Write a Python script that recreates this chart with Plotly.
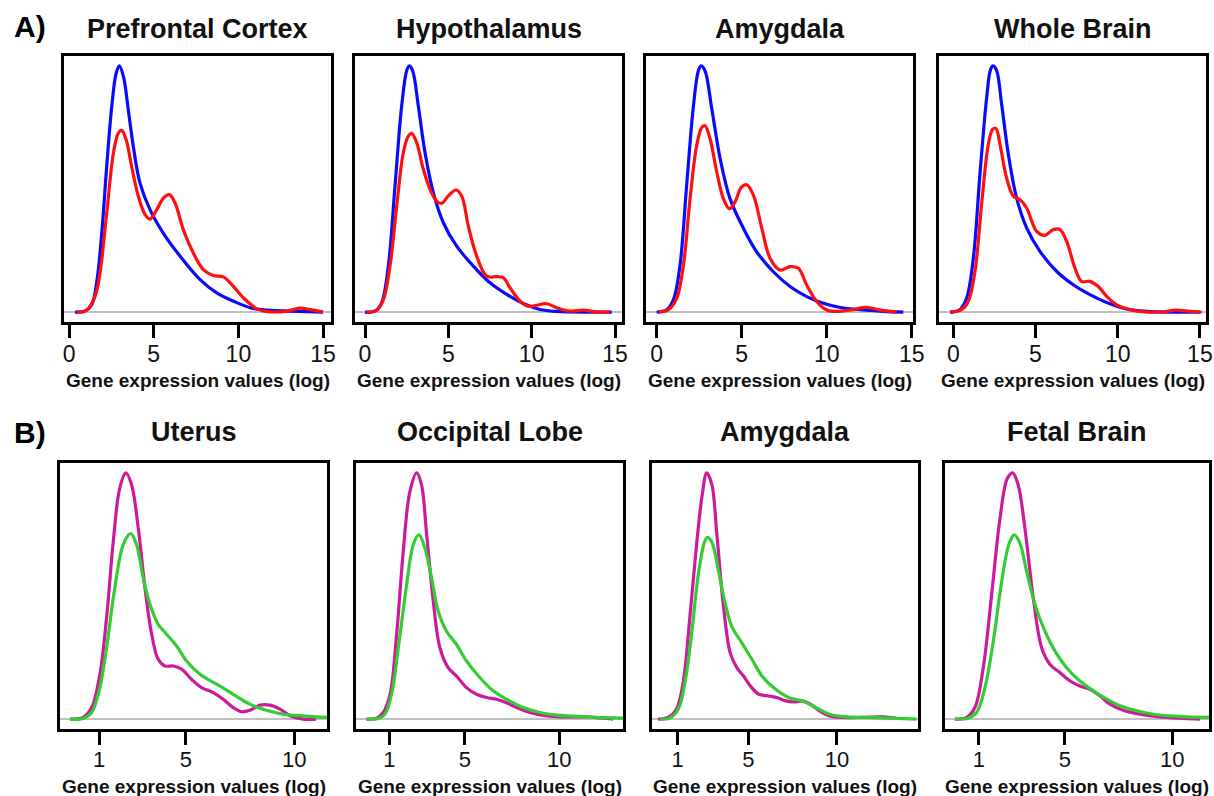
import plotly.graph_objects as go

# ---------------- data (relative density) ----------------
# Row A: blue vs red
pfc_blue_x = [0.35, 0.94, 1.34, 1.63, 1.93, 2.22, 2.52, 2.78, 2.97, 3.21, 3.5, 3.8, 4.19, 4.78, 5.57, 6.56, 7.74, 8.72, 9.7, 10.7, 11.7, 13.05, 15.0]
pfc_blue_y = [0, 0.004, 0.03, 0.12, 0.32, 0.59, 0.835, 0.97, 1.0, 0.957, 0.82, 0.67, 0.524, 0.416, 0.32, 0.227, 0.132, 0.078, 0.045, 0.018, 0.008, 0.004, 0]
pfc_red_x = [0.45, 1.04, 1.54, 1.83, 2.22, 2.62, 2.91, 3.11, 3.37, 3.7, 4.09, 4.49, 4.78, 5.18, 5.57, 5.93, 6.26, 6.75, 7.34, 7.93, 8.52, 9.11, 9.7, 10.3, 11.1, 11.87, 12.85, 13.64, 14.2, 15.0]
pfc_red_y = [0, 0.008, 0.065, 0.16, 0.40, 0.646, 0.727, 0.738, 0.70, 0.59, 0.47, 0.396, 0.378, 0.416, 0.463, 0.477, 0.443, 0.335, 0.24, 0.173, 0.149, 0.143, 0.105, 0.058, 0.0135, 0.0014, 0.004, 0.016, 0.011, 0]

hyp_blue_x = [0, 0.6, 1.0, 1.4, 1.8, 2.2, 2.5, 2.66, 2.86, 3.2, 3.6, 4.1, 4.7, 5.5, 6.5, 7.5, 8.5, 9.5, 10.5, 11.5, 13.5, 14.8]
hyp_blue_y = [0, 0.004, 0.038, 0.187, 0.512, 0.837, 0.98, 1.0, 0.98, 0.837, 0.648, 0.485, 0.363, 0.268, 0.187, 0.119, 0.072, 0.035, 0.011, 0.003, 0, 0]
hyp_red_x = [0.1, 0.7, 1.1, 1.5, 1.9, 2.3, 2.6, 2.8, 3.1, 3.5, 3.9, 4.3, 4.6, 5.0, 5.46, 5.8, 6.2, 6.7, 7.3, 7.9, 8.3, 8.7, 9.3, 9.8, 10.3, 10.9, 11.5, 12.3, 13.1, 13.9, 14.7]
hyp_red_y = [0, 0.008, 0.05, 0.187, 0.43, 0.648, 0.715, 0.726, 0.688, 0.58, 0.499, 0.451, 0.442, 0.472, 0.496, 0.472, 0.35, 0.228, 0.146, 0.144, 0.14, 0.099, 0.045, 0.024, 0.028, 0.034, 0.018, 0.004, 0.008, 0.001, 0]

amyA_blue_x = [0, 0.59, 0.98, 1.37, 1.76, 2.16, 2.45, 2.61, 2.84, 3.24, 3.73, 4.31, 5.1, 5.88, 6.86, 7.84, 8.82, 9.8, 10.8, 12.16, 13.3, 14.5]
amyA_blue_y = [0, 0.01, 0.05, 0.19, 0.515, 0.838, 0.98, 1.0, 0.98, 0.825, 0.623, 0.461, 0.34, 0.245, 0.164, 0.104, 0.063, 0.036, 0.019, 0.009, 0.003, 0]
amyA_red_x = [0.1, 0.69, 1.18, 1.57, 1.96, 2.35, 2.65, 2.84, 3.14, 3.53, 3.92, 4.27, 4.6, 4.98, 5.29, 5.69, 6.18, 6.67, 7.25, 7.84, 8.33, 8.82, 9.41, 10.0, 10.6, 11.4, 12.35, 13.1, 14.1]
amyA_red_y = [0, 0.01, 0.057, 0.19, 0.46, 0.677, 0.75, 0.757, 0.703, 0.569, 0.461, 0.42, 0.447, 0.508, 0.517, 0.474, 0.34, 0.218, 0.171, 0.185, 0.178, 0.11, 0.043, 0.009, 0.003, 0.009, 0.019, 0.009, 0]

wb_blue_x = [-0.2, 0.4, 0.81, 1.22, 1.62, 2.03, 2.27, 2.43, 2.64, 2.94, 3.35, 3.85, 4.46, 5.27, 6.28, 7.3, 8.31, 9.33, 10.34, 11.35, 12.97, 15.0]
wb_blue_y = [0, 0.01, 0.057, 0.22, 0.56, 0.871, 0.986, 1.0, 0.98, 0.844, 0.64, 0.464, 0.342, 0.247, 0.166, 0.111, 0.071, 0.039, 0.016, 0.005, 0, 0]
wb_red_x = [-0.2, 0.5, 0.91, 1.32, 1.72, 2.13, 2.39, 2.59, 2.84, 3.24, 3.65, 4.05, 4.46, 5.07, 5.57, 6.08, 6.49, 6.89, 7.4, 7.8, 8.31, 8.82, 9.33, 9.93, 10.54, 11.35, 12.57, 13.58, 14.39, 15.1]
wb_red_y = [0, 0.01, 0.043, 0.166, 0.437, 0.681, 0.742, 0.746, 0.681, 0.545, 0.471, 0.457, 0.423, 0.328, 0.312, 0.335, 0.335, 0.288, 0.179, 0.125, 0.125, 0.104, 0.064, 0.03, 0.014, 0.003, 0, 0.008, 0.003, 0]

# Row B: magenta vs green
ut_mag_x = [-0.35, 0.26, 0.65, 1.03, 1.34, 1.65, 1.95, 2.23, 2.49, 2.8, 3.11, 3.42, 3.72, 4.03, 4.42, 4.8, 5.26, 5.72, 6.26, 6.72, 7.18, 7.57, 7.95, 8.42, 8.88, 9.34, 9.8, 10.4, 11.0]
ut_mag_y = [0, 0.007, 0.047, 0.182, 0.412, 0.723, 0.939, 1.0, 0.953, 0.777, 0.534, 0.345, 0.243, 0.216, 0.216, 0.203, 0.162, 0.128, 0.108, 0.081, 0.047, 0.03, 0.036, 0.057, 0.057, 0.041, 0.014, 0, 0]
ut_grn_x = [-0.35, 0.26, 0.65, 1.03, 1.34, 1.72, 2.11, 2.45, 2.72, 3.03, 3.34, 3.72, 4.11, 4.57, 5.03, 5.65, 6.42, 7.18, 7.95, 8.72, 9.49, 10.26, 11.03, 11.57]
ut_grn_y = [0, 0.003, 0.027, 0.128, 0.29, 0.534, 0.709, 0.753, 0.709, 0.574, 0.466, 0.385, 0.345, 0.297, 0.236, 0.182, 0.142, 0.101, 0.061, 0.036, 0.02, 0.014, 0.009, 0.007]

occ_mag_x = [-0.2, 0.33, 0.68, 1.04, 1.39, 1.74, 2.09, 2.45, 2.71, 2.98, 3.33, 3.68, 4.12, 4.56, 5.09, 5.62, 6.15, 6.68, 7.21, 7.74, 8.44, 9.32, 10.38, 11.44, 12.5, 12.85]
occ_mag_y = [0, 0.004, 0.027, 0.1, 0.344, 0.68, 0.923, 1.0, 0.95, 0.748, 0.478, 0.29, 0.209, 0.175, 0.128, 0.101, 0.088, 0.081, 0.067, 0.047, 0.027, 0.013, 0.009, 0.009, 0.003, 0]
occ_grn_x = [-0.2, 0.42, 0.77, 1.12, 1.48, 1.92, 2.27, 2.57, 2.89, 3.24, 3.59, 4.03, 4.56, 5.09, 5.8, 6.5, 7.21, 8.09, 8.97, 9.85, 10.74, 11.79, 13.4]
occ_grn_y = [0, 0.003, 0.02, 0.1, 0.29, 0.546, 0.708, 0.748, 0.694, 0.573, 0.438, 0.357, 0.303, 0.236, 0.168, 0.115, 0.081, 0.047, 0.027, 0.016, 0.012, 0.007, 0.004]

amyB_mag_x = [-0.1, 0.47, 0.94, 1.32, 1.7, 2.08, 2.4, 2.65, 2.94, 3.22, 3.6, 3.98, 4.36, 4.74, 5.12, 5.59, 6.16, 6.64, 7.11, 7.58, 8.06, 8.53, 9.0, 9.58, 10.34, 11.47, 12.61, 13.37]
amyB_mag_y = [0, 0.007, 0.04, 0.148, 0.416, 0.711, 0.913, 1.0, 0.953, 0.752, 0.456, 0.268, 0.208, 0.174, 0.134, 0.101, 0.094, 0.087, 0.074, 0.07, 0.074, 0.06, 0.034, 0.013, 0.007, 0.007, 0.009, 0.003]
amyB_grn_x = [0.0, 0.56, 1.04, 1.42, 1.8, 2.18, 2.52, 2.69, 2.94, 3.31, 3.69, 4.07, 4.64, 5.21, 5.78, 6.54, 7.3, 8.06, 8.82, 9.58, 10.53, 11.85, 13.37, 14.5]
amyB_grn_y = [0, 0.004, 0.04, 0.148, 0.349, 0.59, 0.718, 0.738, 0.718, 0.604, 0.47, 0.376, 0.309, 0.242, 0.174, 0.121, 0.087, 0.074, 0.047, 0.02, 0.009, 0.007, 0.003, 0]

fb_mag_x = [-0.12, 0.43, 0.81, 1.2, 1.59, 1.98, 2.32, 2.57, 2.83, 3.14, 3.53, 3.92, 4.31, 4.77, 5.24, 5.7, 6.17, 6.64, 7.1, 7.72, 8.5, 9.43, 10.52, 11.3]
fb_mag_y = [0, 0.007, 0.047, 0.209, 0.505, 0.815, 0.977, 1.0, 0.95, 0.775, 0.492, 0.29, 0.222, 0.189, 0.155, 0.135, 0.121, 0.094, 0.061, 0.036, 0.02, 0.009, 0.003, 0]
fb_grn_x = [-0.12, 0.5, 0.89, 1.28, 1.67, 2.06, 2.41, 2.65, 2.91, 3.22, 3.61, 4.07, 4.54, 5.08, 5.7, 6.33, 6.95, 7.57, 8.35, 9.12, 9.9, 10.67, 11.92]
fb_grn_y = [0, 0.004, 0.027, 0.128, 0.317, 0.559, 0.714, 0.748, 0.714, 0.6, 0.465, 0.357, 0.276, 0.209, 0.155, 0.115, 0.081, 0.054, 0.034, 0.02, 0.013, 0.009, 0.007]

titles_a = ["Prefrontal Cortex", "Hypothalamus", "Amygdala", "Whole Brain"]
titles_b = ["Uterus", "Occipital Lobe", "Amygdala", "Fetal Brain"]
ticks_a = [0, 5, 10, 15]
ticks_b = [1, 5, 10]
xlabel = "Gene expression values (log)"

BLUE, RED = "#0a0aff", "#ff1010"
MAG, GRN = "#cc1a99", "#33cc33"

# ---------------- layout geometry (pixels) ----------------
W, H = 1214, 796
row_a_y = (56, 322)
row_b_y = (463, 729)
boxes_a = [(64, 331), (355, 622), (646, 913), (939, 1206)]
boxes_b = [(60, 327), (356, 623), (652, 918), (945, 1209)]
xr_a = [(-0.3, 15.47), (-0.6, 15.42), (-0.63, 15.07), (-0.87, 15.37)]
xr_b = [(-0.81, 11.51), (-0.76, 13.37), (-0.44, 14.58), (-0.58, 11.71)]
title_off = {"A": 27, "B": 31}
label_off = {"A": 59, "B": 57}
standoff = {"A": -4, "B": -4}
tick_size = {"A": 23, "B": 22}

curves_a = [
    [(pfc_blue_x, pfc_blue_y, BLUE), (pfc_red_x, pfc_red_y, RED)],
    [(hyp_blue_x, hyp_blue_y, BLUE), (hyp_red_x, hyp_red_y, RED)],
    [(amyA_blue_x, amyA_blue_y, BLUE), (amyA_red_x, amyA_red_y, RED)],
    [(wb_blue_x, wb_blue_y, BLUE), (wb_red_x, wb_red_y, RED)],
]
curves_b = [
    [(ut_mag_x, ut_mag_y, MAG), (ut_grn_x, ut_grn_y, GRN)],
    [(occ_mag_x, occ_mag_y, MAG), (occ_grn_x, occ_grn_y, GRN)],
    [(amyB_mag_x, amyB_mag_y, MAG), (amyB_grn_x, amyB_grn_y, GRN)],
    [(fb_mag_x, fb_mag_y, MAG), (fb_grn_x, fb_grn_y, GRN)],
]

FONT = "Arial, 'Liberation Sans', Helvetica, sans-serif"
fig = go.Figure()
layout = dict(
    width=W, height=H, margin=dict(l=0, r=0, t=0, b=0, pad=0, autoexpand=False),
    paper_bgcolor="white", plot_bgcolor="white", showlegend=False,
    font=dict(family=FONT, color="black"),
)
annotations = []

def add_panel(idx, box, yb, xr, curves, ticks, title, row):
    xa = "xaxis" if idx == 1 else f"xaxis{idx}"
    ya = "yaxis" if idx == 1 else f"yaxis{idx}"
    xref = "x" if idx == 1 else f"x{idx}"
    yref = "y" if idx == 1 else f"y{idx}"
    for xs, ys, col in curves:
        fig.add_trace(go.Scatter(x=xs, y=ys, mode="lines", xaxis=xref, yaxis=yref,
                                 line=dict(color=col, width=3.2, shape="spline", smoothing=1.0),
                                 hoverinfo="skip"))
    layout[xa] = dict(
        domain=[box[0] / W, box[1] / W], anchor=yref, range=list(xr), automargin=False,
        showline=True, linecolor="black", linewidth=3, mirror=True,
        showgrid=False, zeroline=False, tickmode="array", tickvals=ticks,
        ticktext=[str(t) for t in ticks], ticks="outside", ticklen=13,
        tickwidth=3, tickcolor="black", ticklabelstandoff=standoff[row],
        tickfont=dict(size=tick_size[row], family=FONT, color="#111111"),
    )
    layout[ya] = dict(
        domain=[1 - yb[1] / H, 1 - yb[0] / H], anchor=xref, range=[-0.04, 1.04], automargin=False,
        showline=True, linecolor="black", linewidth=3, mirror=True,
        showgrid=False, showticklabels=False, ticks="",
        zeroline=True, zerolinecolor="#c0c0c0", zerolinewidth=2,
    )
    cx = (box[0] + box[1]) / 2 / W
    annotations.append(dict(text=f"<b>{title}</b>", x=cx, y=1 - (yb[0] - title_off[row]) / H,
                            xref="paper", yref="paper", showarrow=False,
                            xanchor="center", yanchor="middle",
                            font=dict(size=27, family=FONT, color="#111111")))
    annotations.append(dict(text=f"<b>{xlabel}</b>", x=cx, y=1 - (yb[1] + label_off[row]) / H,
                            xref="paper", yref="paper", showarrow=False,
                            xanchor="center", yanchor="middle",
                            font=dict(size=19, family=FONT, color="#111111")))

for i in range(4):
    add_panel(i + 1, boxes_a[i], row_a_y, xr_a[i], curves_a[i], ticks_a, titles_a[i], "A")
for i in range(4):
    add_panel(i + 5, boxes_b[i], row_b_y, xr_b[i], curves_b[i], ticks_b, titles_b[i], "B")

annotations.append(dict(text="<b>A)</b>", x=12 / W, y=1 - 27 / H, xref="paper", yref="paper",
                        showarrow=False, xanchor="left", yanchor="middle",
                        font=dict(size=30, family=FONT, color="black")))
annotations.append(dict(text="<b>B)</b>", x=12 / W, y=1 - 432 / H, xref="paper", yref="paper",
                        showarrow=False, xanchor="left", yanchor="middle",
                        font=dict(size=30, family=FONT, color="black")))
layout["annotations"] = annotations
fig.update_layout(**layout)
fig.write_html("out.html", config={"displayModeBar": False},
               post_script="document.body.style.margin='0px';document.body.style.overflow='hidden';")
